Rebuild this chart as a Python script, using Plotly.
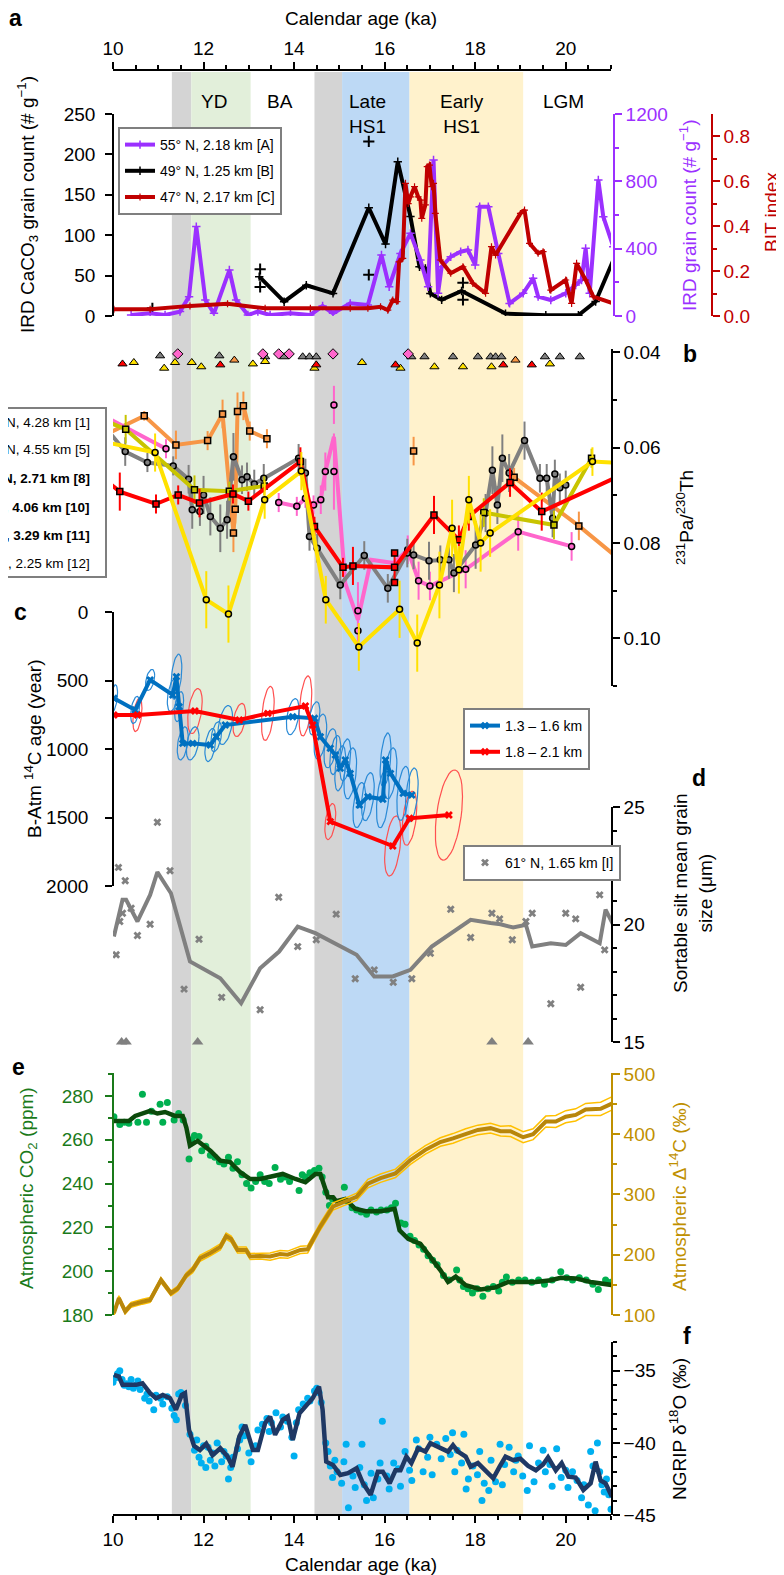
import math
import plotly.graph_objects as go

W, H = 784, 1575
FONT = "Liberation Sans, Arial, Helvetica, sans-serif"
PAGE_OFFSET = 8  # the page body margin moves the whole figure by this much


def fx(px):
    # screen pixel column -> paper x
    return (px - PAGE_OFFSET) / W


def fy(py):
    # screen pixel row -> paper y
    return 1 - (py - PAGE_OFFSET) / H


# ---------------- climate period bands ----------------
band_start = [11.30, 11.73, 14.45, 15.06, 16.55]
band_end = [11.73, 13.04, 15.06, 16.55, 19.06]
band_color = ["#d4d4d4", "#e2efda", "#d4d4d4", "#bdd9f5", "#fff2cc"]
period_labels = ["YD", "BA", "Late<br>HS1", "Early<br>HS1", "LGM"]
period_ka = [12.23, 13.69, 15.63, 17.70, 19.94]

# ---------------- panel a ----------------
ird_a_ka = [10.40, 10.82, 11.15, 11.48, 11.68, 11.84, 12.04, 12.23, 12.57, 12.72, 12.98, 13.20, 13.47, 13.92,
            14.36, 14.63, 14.86, 15.24, 15.63, 15.93, 16.10, 16.35, 16.57, 16.79, 16.96, 17.08, 17.18, 17.26,
            17.46, 17.68, 17.84, 18.00, 18.10, 18.29, 18.51, 18.76, 19.06, 19.28, 19.39, 19.67, 20.00, 20.22,
            20.35, 20.44, 20.53, 20.72, 20.83, 21.05]
ird_a_cnt = [6, 16, 6, 26, 115, 531, 95, 16, 273, 95, 6, 26, 6, 16,
             6, 59, 16, 75, 65, 362, 174, 372, 491, 333, 174, 927, 135, 293,
             352, 382, 392, 303, 649, 649, 372, 75, 135, 224, 115, 95, 135, 184,
             214, 402, 135, 808, 590, 412]

ird_b_ka = [13.23, 13.78, 14.27, 14.86, 15.65, 16.02, 16.29, 16.57, 16.77, 16.90, 17.01, 17.26, 17.70, 18.67,
            19.56, 20.28, 20.66, 21.05]
ird_b_cnt = [48.7, 17.7, 38, 28, 134, 89, 191, 123, 61, 59, 28, 20, 31, 3, 1, 1, 18, 69]
ird_b_pt_ka = [10.87, 13.25, 13.25, 15.65, 15.65, 17.73, 17.73]
ird_b_pt_cnt = [9.5, 58, 36, 216, 51, 41, 20]

bit_ka = [10.02, 10.82, 11.70, 12.53, 13.36, 14.36, 15.24, 15.63, 15.91, 16.07, 16.18, 16.27, 16.32, 16.40,
          16.46, 16.52, 16.57, 16.66, 16.74, 16.79, 16.82, 16.90, 16.94, 16.99, 17.04, 17.08, 17.12, 17.23,
          17.46, 17.73, 17.95, 18.23, 18.36, 18.45, 19.00, 19.09, 19.20, 19.39, 19.50, 19.67, 20.00, 20.13,
          20.24, 20.44, 20.61, 21.05]
bit_val = [0.030, 0.030, 0.045, 0.054, 0.034, 0.034, 0.034, 0.034, 0.041, 0.026, 0.071, 0.064, 0.241, 0.256,
           0.590, 0.500, 0.530, 0.575, 0.530, 0.515, 0.434, 0.494, 0.664, 0.671, 0.575, 0.590, 0.456, 0.249,
           0.190, 0.219, 0.145, 0.101, 0.308, 0.271, 0.456, 0.471, 0.323, 0.279, 0.286, 0.115, 0.160, 0.056,
           0.234, 0.160, 0.086, 0.056]

tri_a_red = [10.07, 11.63, 11.68, 15.46, 15.55, 15.66, 16.02, 16.24, 16.63, 17.07, 17.15, 17.21]
tri_a_purple = [10.27, 10.43, 11.70, 11.76, 13.14, 13.20, 13.27, 13.69, 13.86, 14.19, 14.41, 14.52, 15.02,
                17.04, 17.27, 18.51, 19.04, 19.28, 20.20, 20.85]
tri_a_black = [10.87, 15.69, 19.83]

# ---------------- panel b ----------------
pa_orange_ka = [9.97, 10.69, 11.39, 12.09, 12.42, 12.66, 12.70, 12.75, 12.88, 13.02, 13.40, None, 16.64, None,
                18.86, 20.29, 21.07]
pa_orange = [0.0566, 0.0533, 0.0594, 0.0585, 0.0529, 0.0779, 0.0729, 0.0524, 0.0512, 0.0565, 0.0581, None,
             0.0607, None, 0.0662, 0.0764, 0.0825]
pa_orange_err = [0, 0.001, 0.003, 0.002, 0.003, 0.004, 0.003, 0.004, 0.003, 0.002, 0.002, None, 0.003, None,
                 0.002, 0.003, 0]

pa_pink_ka = [9.97, 11.17, None, 13.66, 14.06, 14.25, 14.43, 14.59, 14.69, 14.88, 15.13, 15.41, 15.70, 16.20,
              16.51, 16.75, 17.00, 17.79, 18.95, 20.13]
pa_pink = [0.0542, 0.0602, None, 0.0715, 0.0723, 0.0706, 0.0720, 0.0709, 0.0650, 0.0577, 0.0884, 0.0961,
           0.0835, 0.0842, 0.0814, 0.0879, 0.0890, 0.0855, 0.0776, 0.0807]
pa_pink_pt_ka = [11.17, 13.66, 14.06, 14.25, 14.43, 14.59, 14.69, 14.88, 14.88, 15.41, 15.41, 16.51, 16.75,
                 17.00, 17.79, 18.95, 20.13]
pa_pink_pt = [0.0602, 0.0715, 0.0723, 0.0706, 0.0720, 0.0709, 0.0650, 0.0650, 0.0510, 0.0942, 0.0984, 0.0814,
              0.0879, 0.0890, 0.0855, 0.0776, 0.0807]
pa_pink_err = [0.002, 0.002, 0.002, 0.002, 0.002, 0.003, 0.004, 0.008, 0.004, 0.006, 0.004, 0.003, 0.004,
               0.003, 0.004, 0.004, 0.003]

pa_grey_ka = [9.97, 10.27, 10.76, 11.33, 11.67, 11.75, 11.92, 12.00, 12.15, 12.37, 12.52, 12.66, 12.85, 12.96,
              13.12, 13.33, 14.10, 14.25, 14.34, 14.51, 15.02, 15.55, 16.07, 16.50, 16.64, 16.98, 17.23, 17.42,
              17.53, 18.01, 18.23, 18.38, 18.49, 18.60, 18.75, 19.09, 19.43, 19.58, 19.71, 19.76, 19.87, 20.00]
pa_grey = [0.0573, 0.0608, 0.0631, 0.0638, 0.0666, 0.0730, 0.0734, 0.0699, 0.0744, 0.0769, 0.0751, 0.0619,
           0.0667, 0.0661, 0.0676, 0.0664, 0.0622, 0.0653, 0.0786, 0.0811, 0.0888, 0.0826, 0.0895, 0.0821,
           0.0825, 0.0837, 0.0835, 0.0835, 0.0863, 0.0804, 0.0737, 0.0647, 0.0720, 0.0622, 0.0653, 0.0585,
           0.0664, 0.0664, 0.0748, 0.0655, 0.0684, 0.0678]
pa_grey_err = [0, 0.003, 0.002, 0.002, 0.003, 0.004, 0.003, 0.004, 0.004, 0.005, 0.004, 0.005, 0.003, 0.003,
               0.003, 0.003, 0.003, 0.003, 0.003, 0.003, 0.003, 0.003, 0.003, 0.003, 0.003, 0.004, 0.003, 0.004,
               0.004, 0.005, 0.004, 0.005, 0.004, 0.005, 0.004, 0.004, 0.003, 0.003, 0.004, 0.003, 0.003, 0.003]

pa_olive_ka = [9.97, 10.28, 11.80, 12.57, 13.34, None, 18.19, 19.74, 20.57]
pa_olive = [0.0549, 0.0561, 0.0688, 0.0691, 0.0680, None, 0.0736, 0.0762, 0.0622]
pa_olive_err = [0, 0.003, 0.003, 0.002, 0.002, None, 0.003, 0.003, 0.002]

pa_red_ka = [9.97, 10.15, 10.95, 11.44, 11.91, 12.65, 12.99, 14.14, 14.45, 15.08, 15.30, 16.22, 17.09, 17.64,
             17.86, 18.77, 19.47, 21.07]
pa_red = [0.0678, 0.0692, 0.0718, 0.0699, 0.0716, 0.0697, 0.0712, 0.0629, 0.0765, 0.0851, 0.0848, 0.0851,
          0.0741, 0.0793, 0.0744, 0.0673, 0.0734, 0.0664]
pa_red_err = [0, 0.004, 0.002, 0.002, 0.003, 0.002, 0.002, 0.003, 0.002, 0.002, 0.004, 0.003, 0.004, 0.003,
              0.003, 0.003, 0.004, 0]
pa_red_pt_ka = [16.22, 16.22]
pa_red_pt = [0.0821, 0.0883]

pa_yellow_ka = [9.97, 10.93, 12.06, 12.55, 13.35, 14.16, 14.70, 15.43, 16.33, 16.72, 17.21, 17.49, 17.64, 17.86,
                18.12, 18.33, 20.59, 21.07]
pa_yellow = [0.0591, 0.0610, 0.0919, 0.0949, 0.0709, 0.0649, 0.0919, 0.1018, 0.0939, 0.1010, 0.0888, 0.0769,
             0.0856, 0.0709, 0.0800, 0.0779, 0.0629, 0.0631]
pa_yellow_err = [0, 0.004, 0.006, 0.006, 0.004, 0.004, 0.005, 0.005, 0.006, 0.006, 0.007, 0.006, 0.005, 0.005,
                 0.006, 0.005, 0.003, 0]

tri_b_grey_ka = [11.04, 12.35, 13.36, 13.78, 14.19, 14.34, 14.49, 16.59, 16.88, 17.51, 18.06, 18.34, 18.45,
                 18.58, 19.54, 19.87, 20.31]
tri_b_grey = [0.0407, 0.0407, 0.0409, 0.0409, 0.0409, 0.0409, 0.0409, 0.0409, 0.0409, 0.0409, 0.0409, 0.0409,
              0.0409, 0.0409, 0.0409, 0.0409, 0.0409]
tri_b_yellow_ka = [10.46, 11.13, 11.37, 11.74, 11.95, 13.09, 13.36, 14.45, 15.50, 16.35, 17.10, 17.73, 18.36,
                   19.65]
tri_b_yellow = [0.0421, 0.0433, 0.0421, 0.0421, 0.0430, 0.0424, 0.0419, 0.0433, 0.0421, 0.0433, 0.0430, 0.0430,
                0.0430, 0.0424]
tri_b_red_ka = [10.21, 12.37, 14.49, 16.24, 18.62, 19.25]
tri_b_red = [0.0424, 0.0426, 0.0426, 0.0426, 0.0426, 0.0426]
tri_b_orange_ka = [12.68, 18.89]
tri_b_orange = [0.0416, 0.0416]
dia_b_pink_ka = [11.43, 13.31, 13.66, 13.89, 14.86, 16.52]
dia_b_pink = [0.0403, 0.0403, 0.0403, 0.0403, 0.0403, 0.0403]

legend_b_text = ["N, 4.28 km [1]", "N, 4.55 km [5]", "<b>N, 2.71 km [8]</b>", "<b>N, 4.06 km [10]</b>",
                 "<b>N, 3.29 km [11]</b>", "S, 2.25 km [12]"]

# ---------------- panel c ----------------
c_blue_ka = [10.02, 10.49, 10.82, 11.32, 11.40, 11.46, 11.54, 11.76, 12.15, 12.28, 12.48, 13.97, 14.45, 14.58,
             14.80, 14.91, 15.02, 15.13, 15.24, 15.44, 15.63, 15.96, 16.02, 16.13, 16.41, 16.60]
c_blue_age = [630, 715, 496, 606, 472, 691, 959, 959, 971, 910, 825, 764, 776, 910,
              995, 1044, 1141, 1080, 1178, 1409, 1348, 1367, 1080, 1178, 1324, 1336]
c_blue_ex = [0.08, 0.10, 0.10, 0.12, 0.12, 0.10, 0.12, 0.14, 0.12, 0.12, 0.16, 0.14, 0.12, 0.14,
             0.14, 0.12, 0.12, 0.12, 0.14, 0.14, 0.14, 0.14, 0.12, 0.14, 0.14, 0.14]
c_blue_ey = [90, 90, 70, 110, 150, 100, 110, 110, 110, 100, 130, 120, 110, 150,
             130, 130, 150, 140, 170, 150, 160, 190, 180, 170, 180, 180]

c_red_ka = [10.02, 10.54, 11.81, 12.79, 13.42, 14.25, 14.41, 14.80, 16.18, 16.55, 17.42]
c_red_age = [752, 752, 723, 788, 740, 686, 825, 1530, 1708, 1506, 1482]
c_red_ex = [0, 0.10, 0.16, 0.14, 0.14, 0.14, 0, 0.12, 0.18, 0.16, 0.30]
c_red_ey = [0, 110, 150, 110, 180, 200, 0, 120, 200, 180, 300]

# ---------------- panel d ----------------
silt_ka = [10.02, 10.21, 10.29, 10.54, 10.82, 10.98, 11.28, 11.70, 12.37, 12.83, 13.25, 13.67, 14.08, 14.47,
           15.38, 15.77, 16.18, 16.57, 17.04, 17.46, 17.90, 18.34, 18.56, 18.84, 19.12, 19.26, 19.67, 20.00,
           20.33, 20.75, 20.88, 21.05]
silt_smooth = [19.49, 21.05, 21.05, 20.13, 21.26, 22.23, 21.33, 18.43, 17.71, 16.65, 18.14, 18.85, 19.91, 19.63,
               18.71, 17.79, 17.79, 18.07, 19.06, 19.63, 20.20, 20.06, 20.01, 19.87, 19.99, 19.06, 19.20, 19.13,
               19.63, 19.20, 20.63, 19.99]
silt_pt_ka = [10.07, 10.12, 10.15, 10.21, 10.27, 10.40, 10.54, 10.82, 10.98, 11.26, 11.57, 11.90, 12.40, 13.25,
              13.66, 14.08, 14.49, 14.93, 15.35, 15.77, 16.19, 16.60, 17.01, 17.46, 17.90, 18.37, 18.54, 18.82,
              19.12, 19.26, 19.67, 20.00, 20.22, 20.33, 20.75, 20.86]
silt_pt = [18.71, 22.43, 20.13, 20.48, 21.86, 20.69, 19.53, 20.01, 24.35, 22.29, 17.25, 19.37, 16.90, 16.37,
           21.16, 19.06, 19.35, 20.44, 17.69, 18.07, 17.54, 17.69, 18.78, 20.65, 19.45, 20.48, 20.24, 19.35,
           20.13, 20.48, 16.63, 20.48, 20.24, 17.33, 21.26, 18.92]
tri_d_ka = [10.19, 10.29, 11.87, 18.37, 19.17]
tri_d = [15, 15, 15, 15, 15]

# ---------------- panel e ----------------
co2_sm_ka = [10.02, 10.35, 10.49, 10.82, 10.98, 11.15, 11.37, 11.54, 11.62, 11.70, 11.87, 12.15, 12.37, 12.59,
             12.81, 13.03, 13.25, 13.53, 13.75, 14.03, 14.25, 14.47, 14.58, 14.75, 14.86, 14.93, 15.13, 15.35,
             15.58, 15.91, 16.22, 16.33, 16.52, 16.79, 17.07, 17.23, 17.40, 17.57, 17.79, 18.12, 18.45, 18.73,
             19.00, 19.34, 19.67, 19.89, 20.22, 20.55, 21.05]
co2_sm = [268.6, 268.6, 270.9, 273.2, 272.0, 272.7, 270.9, 270.9, 265.6, 257.3, 259.5, 255.0, 250.5, 249.8,
          245.2, 242.1, 242.1, 243.6, 244.4, 242.1, 240.6, 244.4, 244.4, 233.8, 233.8, 232.0, 233.0, 228.5,
          227.4, 227.4, 228.5, 218.6, 214.8, 212.5, 205.0, 200.5, 195.1, 197.5, 193.6, 191.7, 192.6, 195.1,
          195.1, 195.1, 195.9, 197.0, 196.7, 195.1, 193.6]
co2_ka = [10.02, 10.15, 10.25, 10.35, 10.55, 10.65, 10.74, 10.85, 11.04, 11.10, 11.20, 11.35, 11.45, 11.55,
          11.68, 11.74, 11.80, 11.90, 11.96, 12.05, 12.15, 12.25, 12.35, 12.45, 12.55, 12.65, 12.75, 12.85,
          12.95, 13.05, 13.15, 13.25, 13.35, 13.45, 13.58, 13.70, 13.80, 13.90, 14.11, 14.18, 14.25, 14.35,
          14.45, 14.55, 14.62, 14.70, 14.78, 14.85, 15.11, 15.18, 15.28, 15.38, 15.48, 15.60, 15.70, 15.82,
          15.92, 16.05, 16.15, 16.24, 16.36, 16.45, 16.56, 16.66, 16.76, 16.86, 16.96, 17.06, 17.16, 17.30,
          17.42, 17.59, 17.66, 17.74, 17.84, 17.94, 18.04, 18.17, 18.28, 18.40, 18.52, 18.60, 18.69, 18.82,
          18.96, 19.10, 19.25, 19.40, 19.53, 19.70, 19.89, 20.02, 20.15, 20.30, 20.45, 20.60, 20.72, 20.88, 21.00]
co2_pt = [270.5, 267.0, 268.0, 267.5, 268.0, 280.8, 268.0, 273.0, 276.2, 268.0, 277.0, 269.0, 272.0, 269.0,
          251.2, 260.0, 262.0, 261.5, 255.0, 257.0, 253.0, 252.0, 250.0, 249.0, 252.0, 247.0, 250.0, 244.0,
          240.0, 238.0, 241.0, 244.0, 241.0, 240.0, 247.4, 242.0, 243.0, 241.0, 236.8, 244.0, 243.0, 245.0,
          246.0, 247.0, 243.0, 236.0, 230.0, 233.0, 238.3, 232.0, 229.0, 228.0, 227.0, 226.0, 228.0, 227.0,
          228.0, 228.0, 229.0, 231.0, 222.0, 221.4, 216.0, 214.0, 212.0, 210.0, 207.0, 205.0, 203.0, 198.0,
          196.0, 200.5, 196.0, 193.0, 192.0, 190.0, 192.0, 188.6, 192.0, 193.0, 191.0, 195.0, 197.4, 195.0,
          196.0, 196.0, 195.0, 196.0, 194.0, 196.0, 199.7, 197.0, 196.0, 197.0, 196.0, 194.0, 191.7, 196.0, 195.0]

d14c_ka = [10.02, 10.13, 10.27, 10.40, 10.65, 10.82, 11.06, 11.28, 11.43, 11.62, 11.76, 11.92, 12.15, 12.37,
           12.50, 12.61, 12.75, 12.94, 13.03, 13.25, 13.47, 13.69, 13.86, 14.14, 14.30, 14.58, 14.86, 15.13,
           15.38, 15.63, 15.91, 16.24, 16.57, 16.90, 17.23, 17.51, 17.79, 18.06, 18.34, 18.56, 18.78, 19.06,
           19.28, 19.56, 19.78, 20.00, 20.22, 20.44, 20.77, 21.05]
d14c = [103, 128, 106, 117, 122, 125, 158, 136, 144, 166, 175, 194, 203, 213,
        231, 226, 208, 208, 197, 198, 197, 201, 200, 208, 209, 247, 280, 288,
        296, 318, 327, 335, 357, 374, 387, 393, 401, 407, 410, 405, 405, 395,
        400, 421, 421, 429, 432, 441, 442, 452]
d14c_err = [4, 4, 4, 4, 4, 4, 4, 4, 4, 4, 5, 5, 5, 5,
            5, 5, 5, 5, 5, 5, 6, 6, 6, 6, 6, 6, 6, 6,
            6, 7, 7, 7, 7, 7, 7, 8, 8, 8, 8, 8, 9, 9,
            9, 9, 10, 10, 10, 10, 11, 11]

# ---------------- panel f ----------------
ng_ka = [10.02, 10.13, 10.21, 10.38, 10.51, 10.65, 10.82, 10.95, 11.10, 11.26, 11.39, 11.52, 11.59, 11.68,
         11.79, 11.92, 12.06, 12.20, 12.37, 12.53, 12.64, 12.79, 12.92, 13.09, 13.20, 13.36, 13.47, 13.58,
         13.75, 13.86, 13.97, 14.12, 14.25, 14.41, 14.55, 14.63, 14.71, 14.86, 15.02, 15.19, 15.38, 15.52,
         15.69, 15.85, 15.96, 16.11, 16.24, 16.35, 16.48, 16.59, 16.74, 16.90, 17.01, 17.18, 17.40, 17.51,
         17.62, 17.79, 17.90, 18.06, 18.17, 18.32, 18.40, 18.54, 18.67, 18.84, 19.00, 19.17, 19.34, 19.50,
         19.61, 19.78, 19.91, 20.06, 20.22, 20.39, 20.55, 20.66, 20.77, 20.88, 21.02]
ng_smooth = [-35.28, -35.4, -35.97, -35.97, -35.97, -35.86, -36.55, -36.9, -36.67, -36.9, -37.7, -36.67, -36.55,
             -39.1, -40.2, -40.5, -40.05, -40.85, -40.37, -40.95, -41.65, -39.56, -38.75, -40.49, -40.49, -38.63,
             -38.17, -39.44, -38.4, -38.17, -39.8, -37.94, -37.47, -36.9, -36.1, -37.7, -41.3, -41.53, -42.22,
             -42.1, -41.76, -42.8, -43.6, -42.0, -42.0, -42.8, -41.9, -41.9, -40.95, -41.4, -40.37, -40.6,
             -40.02, -40.26, -40.6, -40.15, -40.6, -40.95, -41.65, -41.4, -41.76, -42.2, -42.45, -41.65, -40.95,
             -41.2, -41.1, -41.6, -41.9, -41.5, -41.0, -41.9, -41.4, -42.34, -42.4, -43.26, -42.8, -41.3, -42.6,
             -42.8, -43.73]
ng_pt_ka = [10.00, 10.05, 10.10, 10.15, 10.20, 10.25, 10.30, 10.35, 10.40, 10.45, 10.50, 10.55, 10.60, 10.70,
            10.75, 10.80, 10.90, 10.95, 11.05, 11.10, 11.20, 11.30, 11.35, 11.40, 11.45, 11.50, 11.60, 11.70,
            11.80, 11.85, 11.90, 11.95, 12.00, 12.05, 12.10, 12.15, 12.20, 12.25, 12.30, 12.40, 12.45, 12.50,
            12.55, 12.60, 12.65, 12.75, 12.80, 12.85, 12.90, 13.00, 13.05, 13.15, 13.20, 13.30, 13.40, 13.45,
            13.50, 13.60, 13.70, 13.75, 13.85, 13.95, 14.00, 14.05, 14.10, 14.20, 14.30, 14.35, 14.45, 14.50,
            14.55, 14.60, 14.70, 14.75, 14.80, 14.85, 14.90, 14.95, 15.05, 15.10, 15.15, 15.20, 15.30, 15.35,
            15.45, 15.50, 15.55, 15.60, 15.70, 15.75, 15.85, 15.90, 15.95, 16.05, 16.10, 16.20, 16.30, 16.35,
            16.45, 16.55, 16.60, 16.70, 16.75, 16.85, 16.95, 17.00, 17.05, 17.15, 17.25, 17.35, 17.45, 17.50,
            17.55, 17.60, 17.70, 17.75, 17.80, 17.85, 17.95, 18.05, 18.10, 18.15, 18.20, 18.30, 18.35, 18.45,
            18.55, 18.60, 18.65, 18.75, 18.85, 18.90, 18.95, 19.05, 19.15, 19.20, 19.30, 19.40, 19.50, 19.55,
            19.65, 19.70, 19.80, 19.90, 20.00, 20.05, 20.15, 20.25, 20.35, 20.40, 20.50, 20.55, 20.60, 20.65,
            20.70, 20.75, 20.80, 20.85, 20.90, 20.95, 21.00]
ng_pt = [-35.8, -35.5, -35.2, -35.0, -35.6, -36.0, -35.9, -36.1, -35.6, -36.2, -36.0, -35.7, -36.3, -36.9,
         -36.6, -37.1, -37.7, -36.7, -36.9, -37.3, -36.8, -37.6, -38.1, -38.4, -36.6, -36.5, -37.4, -39.4,
         -40.5, -39.8, -41.0, -41.4, -40.2, -41.7, -40.3, -41.2, -40.7, -41.6, -40.0, -41.3, -40.6, -40.9,
         -42.5, -41.7, -41.0, -40.4, -39.8, -38.9, -39.5, -40.7, -41.3, -40.2, -39.1, -38.7, -38.3, -39.2,
         -38.6, -37.9, -38.9, -38.2, -38.5, -39.6, -40.9, -38.6, -37.7, -37.3, -36.9, -37.1, -36.4, -36.2,
         -36.5, -37.2, -40.0, -40.6, -41.6, -42.4, -41.2, -42.0, -42.8, -41.3, -40.1, -44.5, -42.3, -43.1,
         -41.7, -40.1, -42.9, -44.0, -42.1, -43.8, -42.5, -41.4, -38.5, -42.3, -43.2, -41.4, -41.8, -43.0,
         -40.6, -41.9, -42.6, -39.8, -40.4, -42.0, -41.0, -39.6, -42.2, -40.1, -41.1, -39.7, -40.8, -39.3,
         -42.0, -40.5, -41.4, -39.4, -43.2, -42.5, -41.6, -42.2, -40.6, -44.0, -42.8, -43.3, -41.2, -42.7,
         -40.1, -42.9, -41.5, -40.3, -42.0, -41.2, -40.9, -42.3, -43.3, -40.2, -42.7, -41.4, -40.5, -42.0,
         -41.5, -43.0, -40.4, -42.4, -41.9, -43.1, -42.0, -42.6, -43.8, -42.9, -44.3, -40.6, -41.6, -44.7,
         -40.0, -42.0, -42.9, -43.4, -42.5, -43.6, -44.6]

# ---------------- colours ----------------
PURPLE = "#9b30ff"
BITRED = "#c00000"
ORANGE = "#f79646"
PINK = "#ff66cc"
GREY = "#808080"
OLIVE = "#c8c400"
RED = "#ff0000"
YELLOW = "#ffe100"
BLUE = "#0070c0"
CO2_AX = "#1a7a1a"
CO2_DOT = "#00b050"
CO2_LINE = "#0b4a0b"
D14_AX = "#bf9000"
D14_LINE = "#b8860b"
D14_BAND = "#ffc000"
NG_DOT = "#00b0f0"
NG_LINE = "#1f3864"

TICK_SIZE = 19
TITLE_SIZE = 19
LEG_SIZE = 14

fig = go.Figure()

# bands across all panels
for x0, x1, col in zip(band_start, band_end, band_color):
    fig.add_shape(type="rect", xref="x", yref="paper", x0=x0, x1=x1, y0=fy(1515), y1=fy(72),
                  fillcolor=col, line_width=0, layer="below")

# ---- panel a traces
fig.add_trace(go.Scatter(x=ird_a_ka, y=ird_a_cnt, yaxis="y2", mode="lines+markers",
                         line=dict(color=PURPLE, width=4),
                         marker=dict(symbol="cross-thin", size=6, line=dict(color=PURPLE, width=1.5)),
                         name="55° N, 2.18 km [A]", legend="legend", legendgroup="a1"))
fig.add_trace(go.Scatter(x=ird_b_ka, y=ird_b_cnt, yaxis="y", mode="lines+markers",
                         line=dict(color="black", width=4),
                         marker=dict(symbol="cross-thin", size=6, line=dict(color="black", width=1.5)),
                         name="49° N, 1.25 km [B]", legend="legend", legendgroup="a2"))
fig.add_trace(go.Scatter(x=bit_ka, y=bit_val, yaxis="y3", mode="lines+markers",
                         line=dict(color=BITRED, width=4),
                         marker=dict(symbol="cross-thin", size=5, line=dict(color=BITRED, width=1.2)),
                         name="47° N, 2.17 km [C]", legend="legend", legendgroup="a3"))
fig.add_trace(go.Scatter(x=ird_b_pt_ka, y=ird_b_pt_cnt, yaxis="y", mode="markers",
                         marker=dict(symbol="cross-thin", size=8, line=dict(color="black", width=2)),
                         showlegend=False, hoverinfo="skip"))

# age control triangles under the top axis (plotted above the panel a range)
for kas, lev, col in [(tri_a_purple, 297, PURPLE), (tri_a_black, 295, "black"), (tri_a_red, 291, BITRED)]:
    fig.add_trace(go.Scatter(x=kas, y=[lev] * len(kas), yaxis="y", mode="markers", cliponaxis=False,
                             marker=dict(symbol="triangle-up", size=9, color=col),
                             showlegend=False, hoverinfo="skip"))

# ---- panel b traces
def pa_series(xs, ys, err, col, sym, width=4):
    return go.Scatter(x=xs, y=ys, yaxis="y4", mode="lines+markers", connectgaps=False,
                      line=dict(color=col, width=width),
                      marker=dict(symbol=sym, size=6, color=col, line=dict(color="black", width=1.5)),
                      error_y=dict(type="data", array=err, visible=True, color=col, thickness=2, width=0),
                      showlegend=False, hoverinfo="skip")


fig.add_trace(pa_series(pa_orange_ka, pa_orange, pa_orange_err, ORANGE, "square"))
fig.add_trace(go.Scatter(x=pa_pink_ka, y=pa_pink, yaxis="y4", mode="lines", line=dict(color=PINK, width=4),
                         showlegend=False, hoverinfo="skip"))
fig.add_trace(go.Scatter(x=pa_pink_pt_ka, y=pa_pink_pt, yaxis="y4", mode="markers",
                         marker=dict(symbol="circle", size=6, color=PINK, line=dict(color="black", width=1.5)),
                         error_y=dict(type="data", array=pa_pink_err, visible=True, color=PINK, thickness=2,
                                      width=0),
                         showlegend=False, hoverinfo="skip"))
fig.add_trace(pa_series(pa_grey_ka, pa_grey, pa_grey_err, GREY, "circle"))
fig.add_trace(pa_series(pa_olive_ka, pa_olive, pa_olive_err, OLIVE, "square"))
fig.add_trace(pa_series(pa_red_ka, pa_red, pa_red_err, RED, "square"))
fig.add_trace(go.Scatter(x=pa_red_pt_ka, y=pa_red_pt, yaxis="y4", mode="markers",
                         marker=dict(symbol="square", size=6, color=RED, line=dict(color="black", width=1.5)),
                         showlegend=False, hoverinfo="skip"))
fig.add_trace(pa_series(pa_yellow_ka, pa_yellow, pa_yellow_err, YELLOW, "circle"))

for kas, vals, col, sym in [(tri_b_grey_ka, tri_b_grey, GREY, "triangle-up"),
                            (tri_b_yellow_ka, tri_b_yellow, YELLOW, "triangle-up"),
                            (tri_b_red_ka, tri_b_red, RED, "triangle-up"),
                            (tri_b_orange_ka, tri_b_orange, ORANGE, "triangle-up"),
                            (dia_b_pink_ka, dia_b_pink, PINK, "diamond")]:
    fig.add_trace(go.Scatter(x=kas, y=vals, yaxis="y4", mode="markers", cliponaxis=False,
                             marker=dict(symbol=sym, size=8, color=col, line=dict(color="black", width=1)),
                             showlegend=False, hoverinfo="skip"))

# ---- panel c traces
TILT = 0.45


def ellipses(cx_list, cy_list, hx_list, hy_list, col):
    xs, ys = [], []
    for cx, cy, hx, hy in zip(cx_list, cy_list, hx_list, hy_list):
        if hx == 0:
            continue
        for i in range(41):
            t = 2 * math.pi * i / 40
            xs.append(cx + hx * math.cos(t))
            ys.append(cy + hy * math.sin(t) - TILT * hy * math.cos(t))
        xs.append(None)
        ys.append(None)
    return go.Scatter(x=xs, y=ys, yaxis="y5", mode="lines", line=dict(color=col, width=1.2),
                      showlegend=False, hoverinfo="skip")


fig.add_trace(ellipses(c_red_ka, c_red_age, c_red_ex, c_red_ey, "#ff5050"))
fig.add_trace(ellipses(c_blue_ka, c_blue_age, c_blue_ex, c_blue_ey, "#2a8ad6"))
fig.add_trace(go.Scatter(x=c_blue_ka, y=c_blue_age, yaxis="y5", mode="lines+markers",
                         line=dict(color=BLUE, width=4),
                         marker=dict(symbol="x", size=7, color=BLUE),
                         name="1.3 – 1.6 km", legend="legend2", legendgroup="c1"))
fig.add_trace(go.Scatter(x=c_red_ka, y=c_red_age, yaxis="y5", mode="lines+markers",
                         line=dict(color=RED, width=4),
                         marker=dict(symbol="x", size=7, color=RED),
                         name="1.8 – 2.1 km", legend="legend2", legendgroup="c2"))

# ---- panel d traces
fig.add_trace(go.Scatter(x=silt_ka, y=silt_smooth, yaxis="y6", mode="lines", line=dict(color=GREY, width=4),
                         showlegend=False, hoverinfo="skip"))
fig.add_trace(go.Scatter(x=silt_pt_ka, y=silt_pt, yaxis="y6", mode="markers",
                         marker=dict(symbol="x", size=7, color=GREY),
                         name="61° N, 1.65 km [I]", legend="legend3"))
fig.add_trace(go.Scatter(x=tri_d_ka, y=tri_d, yaxis="y6", mode="markers", cliponaxis=False,
                         marker=dict(symbol="triangle-up", size=10, color=GREY),
                         showlegend=False, hoverinfo="skip"))

# ---- panel e traces
fig.add_trace(go.Scatter(x=co2_ka, y=co2_pt, yaxis="y7", mode="markers",
                         marker=dict(size=7, color=CO2_DOT), showlegend=False, hoverinfo="skip"))
fig.add_trace(go.Scatter(x=co2_sm_ka, y=co2_sm, yaxis="y7", mode="lines", line=dict(color=CO2_LINE, width=4.5),
                         showlegend=False, hoverinfo="skip"))
d14c_hi = [v + e for v, e in zip(d14c, d14c_err)]
d14c_lo = [v - e for v, e in zip(d14c, d14c_err)]
fig.add_trace(go.Scatter(x=d14c_ka, y=d14c_hi, yaxis="y8", mode="lines", line=dict(color=D14_BAND, width=1.5),
                         showlegend=False, hoverinfo="skip"))
fig.add_trace(go.Scatter(x=d14c_ka, y=d14c_lo, yaxis="y8", mode="lines", line=dict(color=D14_BAND, width=1.5),
                         showlegend=False, hoverinfo="skip"))
fig.add_trace(go.Scatter(x=d14c_ka, y=d14c, yaxis="y8", mode="lines", line=dict(color=D14_LINE, width=4),
                         showlegend=False, hoverinfo="skip"))

# ---- panel f traces
fig.add_trace(go.Scatter(x=ng_pt_ka, y=ng_pt, yaxis="y9", mode="markers",
                         marker=dict(size=7, color=NG_DOT), showlegend=False, hoverinfo="skip"))
fig.add_trace(go.Scatter(x=ng_ka, y=ng_smooth, yaxis="y9", mode="lines", line=dict(color=NG_LINE, width=4.5),
                         showlegend=False, hoverinfo="skip"))

# dummy trace so the top calendar axis is drawn
fig.add_trace(go.Scatter(x=[10], y=[0], xaxis="x2", yaxis="y", mode="markers", marker=dict(opacity=0),
                         showlegend=False, hoverinfo="skip"))


def axis_style(color="black", size=TICK_SIZE):
    return dict(showline=True, linecolor=color, linewidth=1.6, ticks="outside", ticklen=7, tickwidth=1.6,
                tickcolor=color, tickfont=dict(family=FONT, size=size, color=color),
                showgrid=False, zeroline=False, fixedrange=True)


def minor(dt, color="black"):
    return dict(dtick=dt, ticks="outside", ticklen=4, tickwidth=1.6, tickcolor=color, showgrid=False)


xdom = [fx(113), fx(611)]
LEFT = fx(113)
RIGHT = fx(612)

layout = dict(
    width=W, height=H, autosize=False,
    margin=dict(l=0, r=0, t=0, b=0, pad=0, autoexpand=False),
    paper_bgcolor="white", plot_bgcolor="rgba(0,0,0,0)",
    font=dict(family=FONT, size=TITLE_SIZE, color="black"),
    xaxis=dict(domain=xdom, range=[10, 21], anchor="free", position=fy(1515), side="bottom",
               dtick=2, tick0=0, minor=minor(0.5), **axis_style()),
    xaxis2=dict(domain=xdom, range=[10, 21], anchor="free", position=fy(70), side="top", overlaying="x",
                dtick=2, tick0=0, minor=minor(0.5), **axis_style()),
    yaxis=dict(domain=[fy(316), fy(114)], range=[0, 250], anchor="free", position=LEFT, side="left",
               dtick=50, ticklabelstandoff=6, **axis_style()),
    yaxis2=dict(range=[0, 1200], overlaying="y", anchor="free", position=fx(614), side="right",
                dtick=400, minor=minor(200, PURPLE), **axis_style(PURPLE)),
    yaxis3=dict(range=[0, 0.898], overlaying="y", anchor="free", position=fx(712), side="right",
                dtick=0.2, tickformat=".1f", minor=minor(0.1, BITRED), **axis_style(BITRED)),
    yaxis4=dict(domain=[fy(686), fy(349)], range=[0.11, 0.03927], anchor="free", position=RIGHT, side="right",
                dtick=0.02, tick0=0, tickformat=".2f", minor=minor(0.01), **axis_style()),
    yaxis5=dict(domain=[fy(886), fy(612)], range=[2000, 0], anchor="free", position=LEFT, side="left",
                dtick=500, ticklabelstandoff=13, **axis_style()),
    yaxis6=dict(domain=[fy(1042), fy(807)], range=[15, 25], anchor="free", position=RIGHT, side="right",
                dtick=5, minor=minor(1), **axis_style()),
    yaxis7=dict(domain=[fy(1315), fy(1073)], range=[180, 290.5], anchor="free", position=LEFT, side="left",
                dtick=20, minor=minor(10, CO2_AX), ticklabelstandoff=8, **axis_style(CO2_AX)),
    yaxis8=dict(range=[100, 501.5], overlaying="y7", anchor="free", position=RIGHT, side="right",
                dtick=100, minor=minor(50, D14_AX), **axis_style(D14_AX)),
    yaxis9=dict(domain=[fy(1515), fy(1342)], range=[-45, -33], anchor="free", position=RIGHT, side="right",
                dtick=5, minor=minor(1), **axis_style()),
    legend=dict(x=fx(118), y=fy(127), xanchor="left", yanchor="top", bgcolor="white",
                bordercolor="#7f7f7f", borderwidth=2, font=dict(family=FONT, size=LEG_SIZE),
                tracegroupgap=5),
    legend2=dict(x=fx(463), y=fy(708), xanchor="left", yanchor="top", bgcolor="white",
                 bordercolor="#7f7f7f", borderwidth=2, font=dict(family=FONT, size=LEG_SIZE),
                 tracegroupgap=5),
    legend3=dict(x=fx(463), y=fy(845), xanchor="left", yanchor="top", bgcolor="white",
                 bordercolor="#7f7f7f", borderwidth=2, font=dict(family=FONT, size=LEG_SIZE)),
    showlegend=True,
)
fig.update_layout(**layout)

# panel b legend box, cut by the left edge of the page
fig.add_shape(type="rect", xref="paper", yref="paper", x0=fx(-12), x1=fx(106), y0=fy(577), y1=fy(408),
              line=dict(color="#7f7f7f", width=2), fillcolor="white", layer="above")
legend_b_rows = [422, 450, 478, 507, 535, 563]
for txt, row in zip(legend_b_text, legend_b_rows):
    fig.add_annotation(xref="paper", yref="paper", x=fx(92), y=fy(row), text=txt, showarrow=False,
                       xanchor="right", yanchor="middle", font=dict(family=FONT, size=13.5, color="black"))

anns = []
# period names
for lab, ka in zip(period_labels, period_ka):
    anns.append(dict(xref="x", yref="paper", x=ka, y=fy(89), text=lab, showarrow=False, xanchor="center",
                     yanchor="top", font=dict(size=TITLE_SIZE)))


# axis titles
def vtitle(px, py, text, color="black", size=TITLE_SIZE):
    return dict(xref="paper", yref="paper", x=fx(px), y=fy(py), text=text, textangle=-90, showarrow=False,
                xanchor="center", yanchor="middle", font=dict(family=FONT, size=size, color=color))


anns += [
    dict(xref="paper", yref="paper", x=fx(361), y=fy(19), text="Calendar age (ka)", showarrow=False,
         xanchor="center", yanchor="middle", font=dict(size=TITLE_SIZE)),
    dict(xref="paper", yref="paper", x=fx(361), y=fy(1564), text="Calendar age (ka)", showarrow=False,
         xanchor="center", yanchor="middle", font=dict(size=TITLE_SIZE)),
    vtitle(27, 205, "IRD CaCO<sub>3</sub> grain count (# g<sup>−1</sup>)"),
    vtitle(688, 215, "IRD grain count (# g<sup>−1</sup>)", PURPLE),
    vtitle(772, 212, "BIT index", BITRED),
    vtitle(685, 518, "<sup>231</sup>Pa/<sup>230</sup>Th"),
    vtitle(33, 749, "B-Atm <sup>14</sup>C age (year)"),
    vtitle(693, 893, "Sortable silt mean grain<br>size (μm)"),
    vtitle(28, 1188, "Atmospheric CO<sub>2</sub> (ppm)", CO2_AX),
    vtitle(678, 1197, "Atmospheric Δ<sup>14</sup>C (‰)", D14_AX),
    vtitle(678, 1429, "NGRIP δ<sup>18</sup>O (‰)"),
]
# panel letters
for letter, px, py in [("a", 15, 18), ("b", 690, 354), ("c", 20, 612), ("d", 699, 778), ("e", 18, 1067),
                       ("f", 687, 1336)]:
    anns.append(dict(xref="paper", yref="paper", x=fx(px), y=fy(py), text="<b>" + letter + "</b>",
                     showarrow=False, xanchor="center", yanchor="middle",
                     font=dict(family=FONT, size=23, color="black")))

for a in anns:
    fig.add_annotation(**a)

fig.write_html("out.html")
